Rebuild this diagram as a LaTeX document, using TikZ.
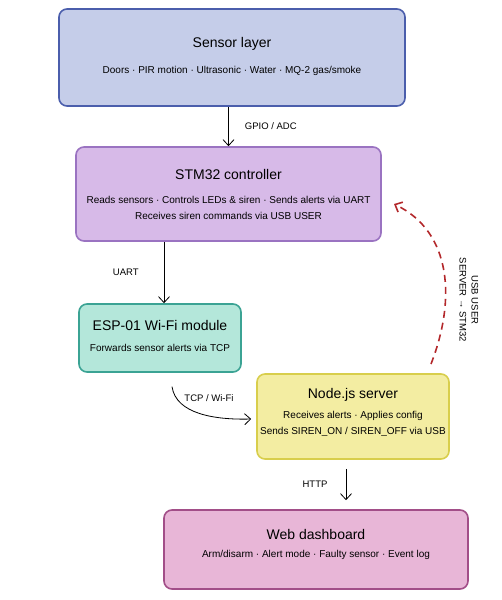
\documentclass[tikz,border=0pt]{standalone}
\usepackage{fontspec}
\setmainfont{Liberation Sans}
\usetikzlibrary{arrows.meta,positioning,calc}

% Colours of the layers
\definecolor{sensorfill}{HTML}{C5CDE9}
\definecolor{sensorline}{HTML}{4B5EAC}
\definecolor{stmfill}{HTML}{D7BAE8}
\definecolor{stmline}{HTML}{9A73C1}
\definecolor{espfill}{HTML}{B4E7DA}
\definecolor{espline}{HTML}{3BA394}
\definecolor{nodefill}{HTML}{F3EDA2}
\definecolor{nodeline}{HTML}{D8CE4C}
\definecolor{webfill}{HTML}{E8B6D7}
\definecolor{webline}{HTML}{A24E88}
\definecolor{usbred}{HTML}{B3282B}

\tikzset{
    layerbox/.style={draw, line width=1.6pt, rounded corners=8pt},
    boxtitle/.style={font=\fontsize{14}{16}\selectfont, inner sep=0pt},
    boxtext/.style={font=\fontsize{10}{16}\selectfont, align=center, inner sep=0pt},
    linklabel/.style={font=\fontsize{9.5}{11}\selectfont, inner sep=0pt},
    flow/.style={-{Straight Barb[length=6pt,width=11pt]}, line width=0.8pt},
}

\begin{document}
\begin{tikzpicture}[x=1pt,y=-1pt]

                % Picture frame
                \useasboundingbox (0,0) rectangle (502,600);

                % Sensor layer
                \node[layerbox, fill=sensorfill, draw=sensorline, minimum width=346pt, minimum height=97pt] (sensor) at (232,57.5) {};
                \node[boxtitle] (sensortitle) at (232,44) {Sensor layer};
                \node[boxtext] (sensortext) at (232,71) {Doors · PIR motion · Ultrasonic · Water · MQ-2 gas/smoke};

                % STM32 controller
                \node[layerbox, fill=stmfill, draw=stmline, minimum width=305pt, minimum height=94pt] (stm) at (228.5,194) {};
                \node[boxtitle] (stmtitle) at (228.5,174) {STM32 controller};
                \node[boxtext] (stmtext) at (228.5,208) {Reads sensors · Controls LEDs \& siren · Sends alerts via UART\\Receives siren commands via USB USER};

                % ESP-01 module
                \node[layerbox, fill=espfill, draw=espline, minimum width=162pt, minimum height=68pt] (esp) at (160,338) {};
                \node[boxtitle] (esptitle) at (160,325) {ESP-01 Wi-Fi module};
                \node[boxtext] (esptext) at (160,348) {Forwards sensor alerts via TCP};

                % Node.js server
                \node[layerbox, fill=nodefill, draw=nodeline, minimum width=192pt, minimum height=85pt] (server) at (353,416.5) {};
                \node[boxtitle] (servertitle) at (353,395) {Node.js server};
                \node[boxtext] (servertext) at (353,424) {Receives alerts · Applies config\\Sends SIREN\_ON / SIREN\_OFF via USB};

                % Web dashboard
                \node[layerbox, fill=webfill, draw=webline, minimum width=304pt, minimum height=79pt] (web) at (316,549.5) {};
                \node[boxtitle] (webtitle) at (316,534) {Web dashboard};
                \node[boxtext] (webtext) at (316,555) {Arm/disarm · Alert mode · Faulty sensor · Event log};

                % Links between layers
                \draw[flow] (stm.north |- sensor.south) -- (stm.north)
                    node[linklabel, midway, right=16pt] {GPIO / ADC};
                \draw[flow] ([xshift=4pt]esp.north |- stm.south) -- ([xshift=4pt]esp.north)
                    node[linklabel, midway, left=25pt] {UART};
                \draw[flow, shorten <=14pt] ([xshift=10pt]esp.south) .. controls (176,414) and (215,420) .. ([xshift=-5pt]server.west |- 0,419);
                \node[linklabel] (tcplabel) at (209,398) {TCP / Wi-Fi};
                \draw[flow, shorten <=9pt, shorten >=9pt] ([xshift=-7pt]server.south) -- ([xshift=30pt]web.north);
                \node[linklabel] (httplabel) at (315,484) {HTTP};

                % USB return path
                \coordinate (usbstart) at (431,364);
                \coordinate (usbend) at (394,204);
                \draw[flow, usbred, dashed, dash pattern=on 7pt off 5pt, line width=1.6pt] (usbstart) .. controls (456,300) and (452,232) .. (usbend);
                \node[linklabel, rotate=-90, align=center, font=\fontsize{9.5}{12}\selectfont] (usblabel) at (469,300) {USB USER\\SERVER → STM32};
            \end{tikzpicture}
\end{document}
